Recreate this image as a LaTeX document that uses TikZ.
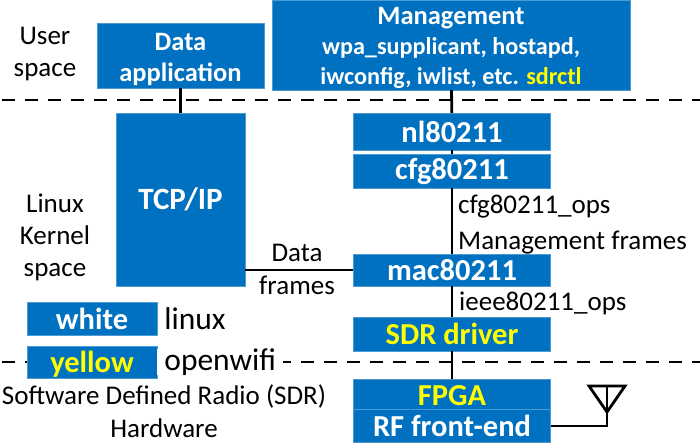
\documentclass[tikz,border=0pt]{standalone}
\usepackage{fontspec}
\setmainfont{Carlito}
\usetikzlibrary{positioning}
\definecolor{boxblue}{HTML}{0070C0}
\definecolor{sdryellow}{HTML}{FFFF00}
\tikzset{
  block/.style={fill=boxblue, draw=boxblue!70!white, line width=0.4pt, text=white, font=\fontsize{30.5}{36}\selectfont\bfseries, align=center, inner sep=0pt, minimum width=197pt},
  ours/.style={block, text=sdryellow},
  caption/.style={font=\fontsize{27}{32}\selectfont, align=center, inner sep=0pt},
  legendtext/.style={caption, font=\fontsize{31.5}{36}\selectfont},
  link/.style={line width=2.8pt},
  border/.style={line width=2.8pt, dash pattern=on 13pt off 10pt}
}
\begin{document}
\begin{tikzpicture}[x=1pt,y=-1pt]
    \useasboundingbox (0,0) rectangle (700,445);
    % layer borders
    \draw[border] (2,100) -- (700,100);
    \draw[border] (2,362) -- (700,362);
    % blocks
    \node[block, minimum width=167pt, minimum height=65pt, font=\fontsize{26.5}{31}\selectfont\bfseries] (app) at (180.5,55.5) {\rule{0pt}{25pt}Data\\application};
    \node[block, minimum width=358pt, minimum height=90pt, font=\fontsize{24.2}{30}\selectfont\bfseries] (mgmt) at (451,45)
        {\rule{0pt}{24pt}{\fontsize{26.5}{30}\selectfont Management}\\wpa\_supplicant, hostapd,\\iwconfig, iwlist, etc. \textcolor{sdryellow}{sdrctl}};
    \node[block, minimum width=129.5pt, minimum height=173pt, font=\fontsize{31}{36}\selectfont\bfseries] (tcp) at (180.5,199.5) {TCP/IP};
    \node[block, minimum height=37pt] (nl) at (452,131.5) {nl80211};
    \node[block, minimum height=34pt] (cfg) at (452,171) {cfg80211};
    \node[block, minimum height=32pt] (mac) at (452,270) {mac80211};
    \node[ours, minimum height=34pt] (sdr) at (452,334) {SDR driver};
    \node[ours, minimum height=30pt] (fpga) at (452,394) {\rule{0pt}{24pt}FPGA};
    \node[block, minimum height=33pt, below=0pt of fpga] (rf) {RF front-end};
    % legend
    \node[block, minimum width=130pt, minimum height=33pt] (white) at (92,318.5) {white};
    \node[ours, minimum width=130pt, minimum height=32pt] (yellow) at (92,362) {\rule{0pt}{25pt}yellow};
    \node[legendtext, right=7pt of white] (linux) {linux};
    \node[legendtext, fill=white, right=0pt of yellow, inner xsep=7pt, minimum height=24pt] (openwifi) {openwifi};
    % left column
    \node[caption] (user) at (45,54) {User\\space};
    \node[caption] (kernel) at (55,237) {Linux\\Kernel\\space};
    \node[caption] (sdrhw) at (164,396) {Software Defined Radio (SDR)};
    \node[caption] (hw) at (164,428) {Hardware};
    % links
    \draw[link] (app) -- (tcp);
    \draw[link] (mgmt) -- (nl);
    \draw[link] (nl) -- (cfg);
    \draw[link] (cfg) -- (mac);
    \draw[link] (mac) -- (sdr);
    \draw[link] (sdr) -- (fpga);
    \draw[link] (tcp.east |- mac) -- (mac);
    % link labels
    \node[caption] (data) at (297,253) {Data};
    \node[caption] (frames) at (297,285) {frames};
    \node[caption, anchor=west] (ops) at (458,207) {cfg80211\_ops};
    \node[caption, anchor=west] (frm) at (458,243) {Management frames};
    \node[caption, anchor=west] (ieee) at (459,303) {ieee80211\_ops};
    % antenna
    \coordinate (tip) at (607,412);
    \coordinate (feed) at (607,426);
    \draw[link, line join=miter] (tip) -- (589,386) -- (625,386) -- cycle;
    \draw[link] (607,386) -- (feed) -- (rf.east |- feed);
\end{tikzpicture}
\end{document}
